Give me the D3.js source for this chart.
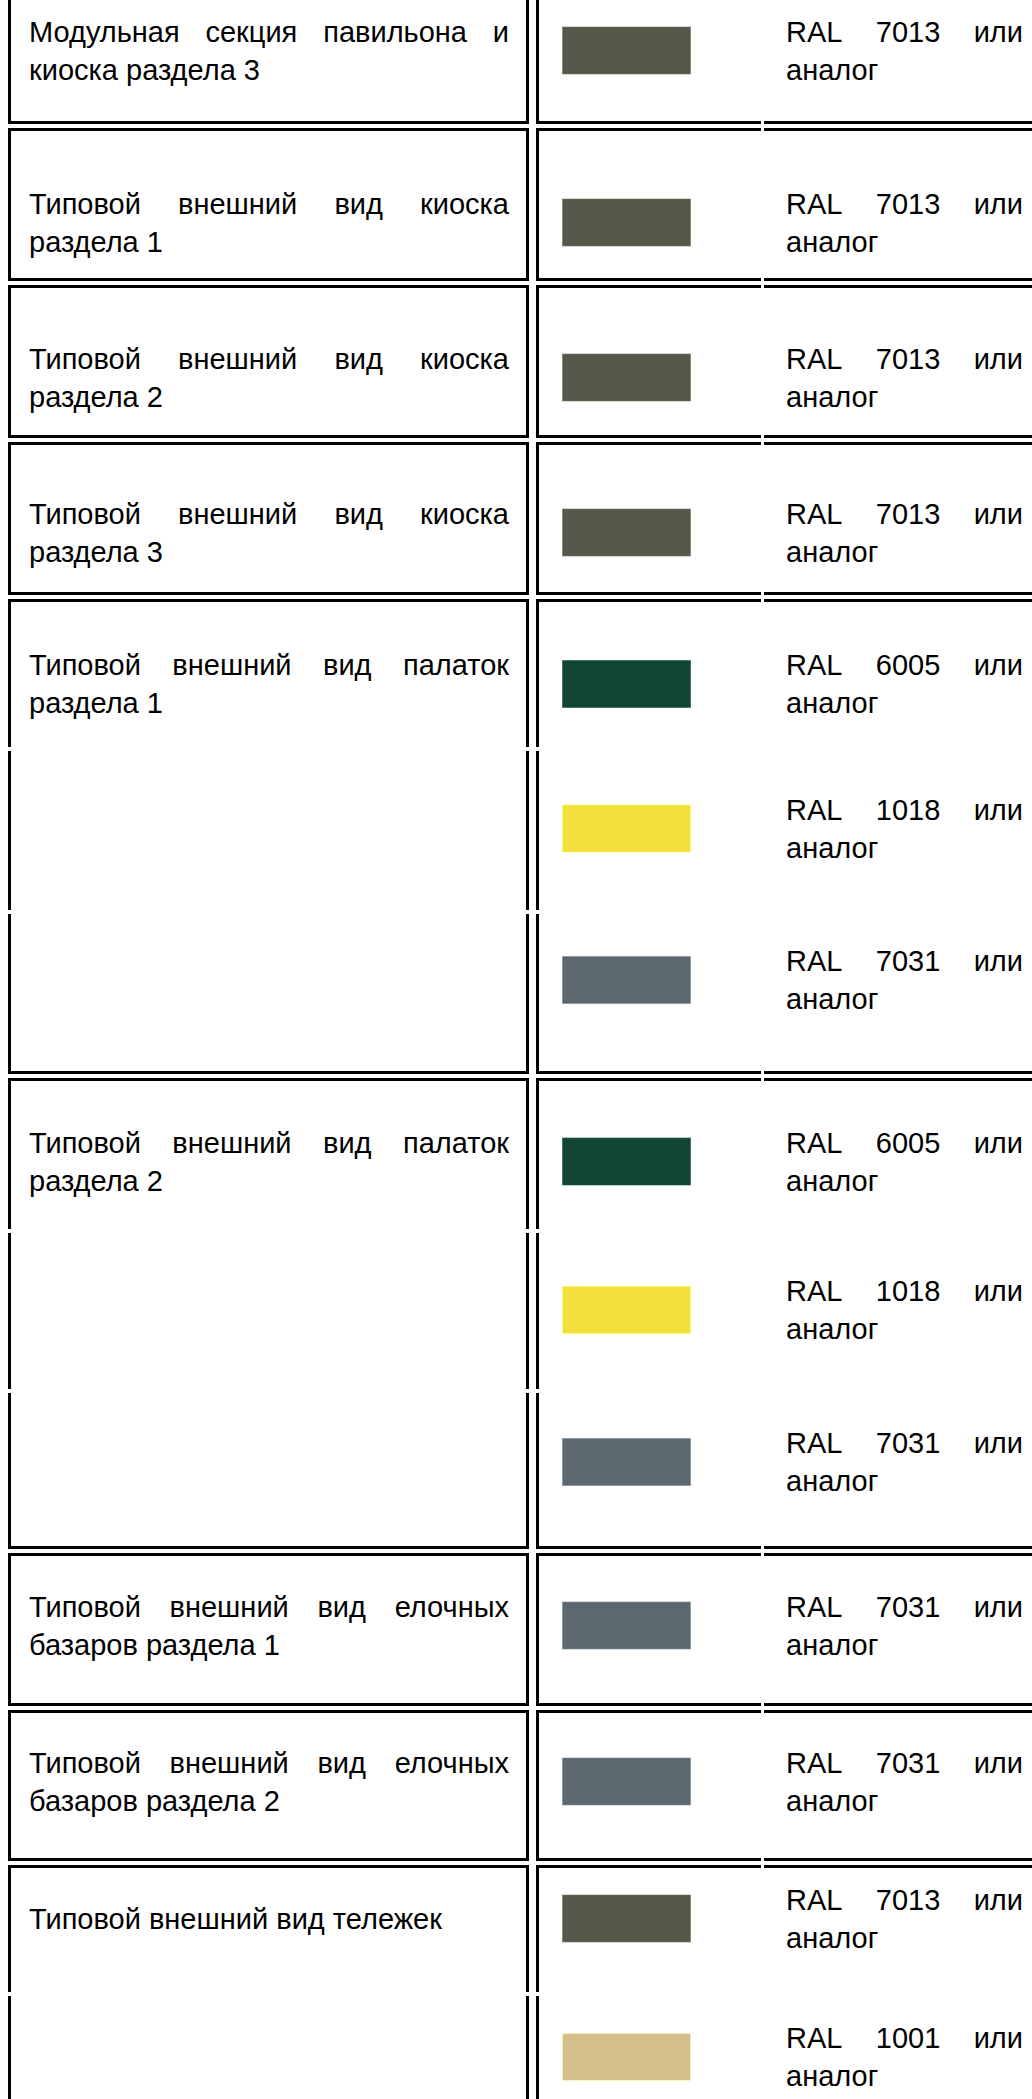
<!DOCTYPE html>
<html>
<head>
  <meta charset="utf-8">
  <title>RAL</title>
  <style>
    body { margin: 0; background: #fff; }
    svg { display: block; }
  </style>
</head>
<body>
  <div id="table"></div>
  <script src="https://cdn.jsdelivr.net/npm/d3@7"></script>
  <script>

  // левая колонка - разделы
  var sectionLabels = [
    "Модульная секция павильона и киоска раздела 3",
    "Типовой внешний вид киоска раздела 1",
    "Типовой внешний вид киоска раздела 2",
    "Типовой внешний вид киоска раздела 3",
    "Типовой внешний вид палаток раздела 1",
    "Типовой внешний вид палаток раздела 2",
    "Типовой внешний вид елочных базаров раздела 1",
    "Типовой внешний вид елочных базаров раздела 2",
    "Типовой внешний вид тележек"
  ];
  // коды RAL в каждом разделе
  var sectionCodes = [
    ["7013"], ["7013"], ["7013"], ["7013"],
    ["6005", "1018", "7031"],
    ["6005", "1018", "7031"],
    ["7031"], ["7031"],
    ["7013", "1001"]
  ];
  var ralCodes  = ["7013", "6005", "1018", "7031", "1001"];
  var ralColors = ["#57584a", "#124536", "#f1df3c", "#5c6870", "#d3bf8c"];

  // раскладка (px)
  var W = 1032, H = 2099;
  var fontSize = 29, lineH = 38;
  var firstTop = -29;
  var rowPitch = [157, 157, 157, 157, 152, 163, 164, 155, 160, 160, 157, 155, 131, 170];
  // сдвиг содержимого строки от середины ячейки
  var rowShift = [3, 18, 16, 14, 11, -2, -14, 8, -1, -9, -4, -4, -10, -22];
  var gap = 4, bw = 3;
  var colL = [8, 529], colM = [536, 761], colR = [764, 1050];
  var textL = [29, 509], textR = [786, 1023];
  var sw = {x: 562, w: 129, h: 48};

  var color = d3.scaleOrdinal().domain(ralCodes).range(ralColors);

  // строки таблицы
  var rows = [];
  sectionLabels.forEach(function(lab, s){
    sectionCodes[s].forEach(function(code, k){
      rows.push({
        label: k == 0 ? lab : "",
        code: code,
        first: k == 0,
        last: k == sectionCodes[s].length - 1
      });
    });
  });

  var tops = [firstTop];
  rowPitch.forEach(function(p){ tops.push(tops[tops.length - 1] + p); });
  rows.forEach(function(r, i){
    r.y0 = tops[i];
    r.y1 = tops[i + 1] - gap;
    r.cy = (r.y0 + r.y1) / 2 + rowShift[i];
  });

  var svg = d3.select("#table").append("svg")
    .attr("width", W)
    .attr("height", H)
    .attr("font-family", "'Liberation Sans', Arial, sans-serif")
    .attr("font-size", fontSize + "px")
    .attr("fill", "#000");

  // измерение ширины слов
  var probe = svg.append("text").attr("x", -1000).attr("y", -1000);
  function measure(s){
    probe.text(s);
    return probe.node().getComputedTextLength();
  }
  var spaceW = measure("a a") - measure("aa");

  function wrap(str, width){
    var words = str.split(" "), lines = [], cur = [];
    words.forEach(function(w){
      var test = cur.concat([w]).join(" ");
      if(cur.length && measure(test) > width){
        lines.push(cur);
        cur = [w];
      } else {
        cur.push(w);
      }
    });
    if(cur.length) lines.push(cur);
    return lines;
  }

  // текст по ширине (последняя строка - влево)
  function drawText(g, str, x0, x1, cy){
    var width = x1 - x0;
    var lines = wrap(str, width);
    lines.forEach(function(words, li){
      var ws = words.map(measure);
      var total = d3.sum(ws);
      var isLast = li == lines.length - 1;
      var sp = (!isLast && words.length > 1) ? (width - total) / (words.length - 1) : spaceW;
      var baseline = cy + (li - (lines.length - 1) / 2) * lineH + fontSize * 0.35;
      var x = x0;
      words.forEach(function(w, k){
        g.append("text").attr("x", x).attr("y", baseline).text(w);
        x += ws[k] + sp;
      });
    });
  }

  var borders = svg.append("g").attr("fill", "#000");
  function bar(x, y, w, h){
    borders.append("rect").attr("x", x).attr("y", y).attr("width", w).attr("height", h);
  }

  rows.forEach(function(r){
    var h = r.y1 - r.y0;
    bar(colL[0], r.y0, bw, h);
    bar(colL[1] - bw, r.y0, bw, h);
    bar(colM[0], r.y0, bw, h);
    if(r.first){
      bar(colL[0], r.y0, colL[1] - colL[0], bw);
      bar(colM[0], r.y0, colM[1] - colM[0], bw);
      bar(colR[0], r.y0, colR[1] - colR[0], bw);
    }
    if(r.last){
      bar(colL[0], r.y1 - bw, colL[1] - colL[0], bw);
      bar(colM[0], r.y1 - bw, colM[1] - colM[0], bw);
      bar(colR[0], r.y1 - bw, colR[1] - colR[0], bw);
    }
  });

  // образцы цвета
  svg.append("g")
    .selectAll("rect")
    .data(rows)
    .enter()
    .append("rect")
    .attr("x", sw.x + 0.5)
    .attr("y", function(d){ return d.cy - sw.h / 2 + 0.5; })
    .attr("width", sw.w - 1)
    .attr("height", sw.h - 1)
    .attr("fill", function(d){ return color(d.code); })
    .attr("stroke", function(d){ return d3.color(color(d.code)).brighter(0.8); })
    .attr("stroke-opacity", 0.6)
    .attr("stroke-width", 1);

  var txt = svg.append("g");
  rows.forEach(function(r){
    if(r.label) drawText(txt, r.label, textL[0], textL[1], r.cy);
    drawText(txt, "RAL " + r.code + " или аналог", textR[0], textR[1], r.cy);
  });
  probe.remove();

  </script>
</body>
</html>
